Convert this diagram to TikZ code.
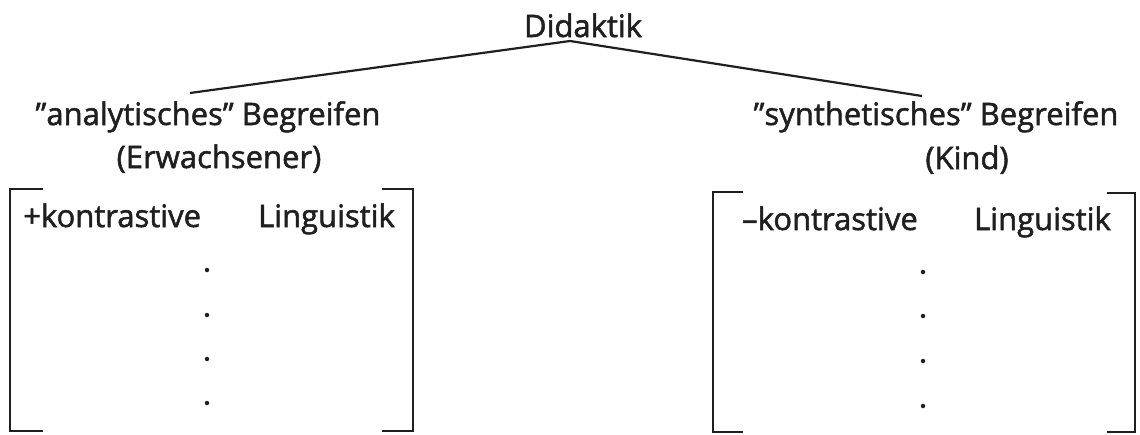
\documentclass[tikz,border=0pt]{standalone}
\usepackage{fontspec}
\setmainfont[FakeBold=1.6]{Open Sans}
\begin{document}
\begin{tikzpicture}[x=1pt,y=-1pt,
  lbl/.style={inner sep=0pt,anchor=base,font=\fontsize{31}{36}\selectfont,text=black!88},
  branch/.style={line width=2.2pt,black!88},
  brk/.style={line width=2.4pt,black!88},
  dotp/.style={circle,fill=black!88,inner sep=0pt,minimum size=4.5pt}]
\useasboundingbox (0,0) rectangle (1140,434);
% texts
\node[lbl] (did) at (583,37) {Didaktik};
\node[lbl] (ana) at (208,125) {”analytisches” Begreifen};
\node[lbl] (erw) at (219,168) {(Erwachsener)};
\node[lbl] (syn) at (936,125) {”synthetisches” Begreifen};
\node[lbl] (kind) at (967,169) {(Kind)};
\node[lbl,anchor=base west] (pk) at (23,227) {+kontrastive};
\node[lbl,anchor=base east] (pl) at (395,227) {Linguistik};
\node[lbl,anchor=base west] (mk) at (742,230) {–kontrastive};
\node[lbl,anchor=base east] (ml) at (1111,230) {Linguistik};
% branches
\coordinate (apex) at (570,41);
\coordinate (lend) at (190,93);
\coordinate (rend) at (922,96);
\draw[branch] (lend) -- (apex) -- (rend);
% left bracket matrix
\draw[brk] (43,189) -- (10,189) -- (10,431) -- (43,431);
\draw[brk] (382,189) -- (413,189) -- (413,431) -- (382,431);
\node[dotp] (d1) at (207,270) {};
\node[dotp] (d2) at (207,315) {};
\node[dotp] (d3) at (207,359) {};
\node[dotp] (d4) at (207,403) {};
% right bracket matrix
\draw[brk] (743,192) -- (713,192) -- (713,432) -- (743,432);
\draw[brk] (1107,193) -- (1135,193) -- (1135,432) -- (1107,432);
\node[dotp] (e1) at (923,272) {};
\node[dotp] (e2) at (923,316) {};
\node[dotp] (e3) at (923,361) {};
\node[dotp] (e4) at (923,406) {};
\end{tikzpicture}
\end{document}
